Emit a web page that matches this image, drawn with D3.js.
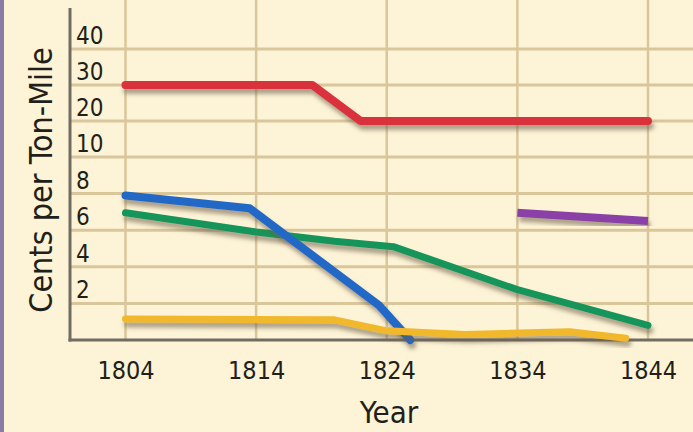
<!DOCTYPE html>
<html>
<head>
<meta charset="utf-8">
<script src="https://cdn.jsdelivr.net/npm/d3@7"></script>
<style>
  html, body { margin: 0; padding: 0; background: #fdf3d6; }
  svg { display: block; }
  text { font-family: "Liberation Sans Narrow", "DejaVu Sans Condensed", "Roboto Condensed", sans-serif; fill: #221f1a; }
</style>
</head>
<body>
<svg width="693" height="432"></svg>
<script>
// tick labels
const years = [1804, 1814, 1824, 1834, 1844];
const yTicks = [2, 4, 6, 8, 10, 20, 30, 40];

// series, cents per ton-mile
const wagonYears = [1804, 1818.3, 1822, 1844];
const wagonCost = [30, 30, 20, 20];

const turnpikeYears = [1804, 1813.5, 1823.4, 1825.8];
const turnpikeCost = [7.9, 7.2, 1.9, 0];

const riverYears = [1804, 1814, 1820, 1824.5, 1834, 1844];
const riverCost = [6.95, 5.9, 5.4, 5.1, 2.75, 0.8];

const railYears = [1834, 1844];
const railCost = [6.95, 6.5];

const canalYears = [1804, 1820, 1824, 1830, 1838, 1842.3];
const canalCost = [1.15, 1.1, 0.5, 0.3, 0.45, 0.1];

const gridColor = "#d9c79b";
const axisColor = "#716d62";

const svg = d3.select("svg");
const width = Number(svg.attr("width"));
const height = Number(svg.attr("height"));
const defs = svg.append("defs");

// soft shadow under each line
defs.append("filter")
    .attr("id", "shadow")
    .attr("x", "-10%").attr("y", "-50%")
    .attr("width", "120%").attr("height", "200%")
    .append("feDropShadow")
    .attr("dx", 2).attr("dy", 5)
    .attr("stdDeviation", 2)
    .attr("flood-color", "#6a5c48")
    .attr("flood-opacity", 0.55);

// scales: the value axis is broken, 2 per step below 10, 10 per step above
const x = d3.scaleLinear().domain([1804, 1844]).range([125.5, 648]);
const y = d3.scaleLinear().domain([0, 10, 40]).range([340, 157, 49]);

svg.append("rect")
    .attr("width", width).attr("height", height)
    .attr("fill", "#fdf3d6");
// purple page edge
svg.append("rect")
    .attr("width", 4).attr("height", height)
    .attr("fill", "#8c7aa8");

// grid
svg.append("g")
    .selectAll("line")
    .data(years)
    .join("line")
    .attr("x1", d => x(d)).attr("x2", d => x(d))
    .attr("y1", 0).attr("y2", y(0))
    .attr("stroke", gridColor)
    .attr("stroke-width", 2.5);
svg.append("g")
    .selectAll("line")
    .data(yTicks)
    .join("line")
    .attr("x1", 70).attr("x2", width)
    .attr("y1", d => y(d)).attr("y2", d => y(d))
    .attr("stroke", gridColor)
    .attr("stroke-width", 3);

// axes lines
svg.append("line")
    .attr("x1", 70).attr("x2", 70)
    .attr("y1", 8).attr("y2", y(0) + 1.5)
    .attr("stroke", axisColor).attr("stroke-width", 3);
svg.append("line")
    .attr("x1", 68.5).attr("x2", width)
    .attr("y1", y(0)).attr("y2", y(0))
    .attr("stroke", axisColor).attr("stroke-width", 3);

// value labels sit just above their grid line
svg.append("g")
    .selectAll("text")
    .data(yTicks)
    .join("text")
    .text(d => d)
    .attr("x", 76)
    .attr("y", d => y(d) - 5)
    .attr("font-size", 24);

// year labels
const xAxis = svg.append("g")
    .attr("transform", `translate(0,${y(0)})`)
    .call(d3.axisBottom(x).tickValues(years).tickFormat(d3.format("d")).tickSize(0).tickPadding(21));
xAxis.select(".domain").remove();
xAxis.selectAll("text")
    .attr("font-size", 25)
    .attr("font-family", null)
    .attr("fill", null);

// axis titles
svg.append("text")
    .text("Year")
    .attr("x", 389).attr("y", 423)
    .attr("text-anchor", "middle")
    .attr("font-size", 31);
svg.append("text")
    .text("Cents per Ton-Mile")
    .attr("transform", "translate(52,180) rotate(-90)")
    .attr("text-anchor", "middle")
    .attr("font-size", 32);

// lines
const series = [
    { xs: wagonYears, ys: wagonCost, color: "#d9333d", width: 8, cap: "round" },
    { xs: riverYears, ys: riverCost, color: "#14955a", width: 7, cap: "round" },
    { xs: turnpikeYears, ys: turnpikeCost, color: "#2468c6", width: 8, cap: "round" },
    { xs: canalYears, ys: canalCost, color: "#f0b82c", width: 7, cap: "round" },
    { xs: railYears, ys: railCost, color: "#8a40a6", width: 8, cap: "butt" },
];

const line = d3.line()
    .x(d => x(d[0]))
    .y(d => y(d[1]));

svg.append("g")
    .selectAll("path")
    .data(series)
    .join("path")
    .attr("d", s => line(s.xs.map((v, i) => [v, s.ys[i]])))
    .attr("fill", "none")
    .attr("stroke", s => s.color)
    .attr("stroke-width", s => s.width)
    .attr("stroke-linecap", s => s.cap)
    .attr("stroke-linejoin", "round")
    .attr("filter", "url(#shadow)");
</script>
</body>
</html>
